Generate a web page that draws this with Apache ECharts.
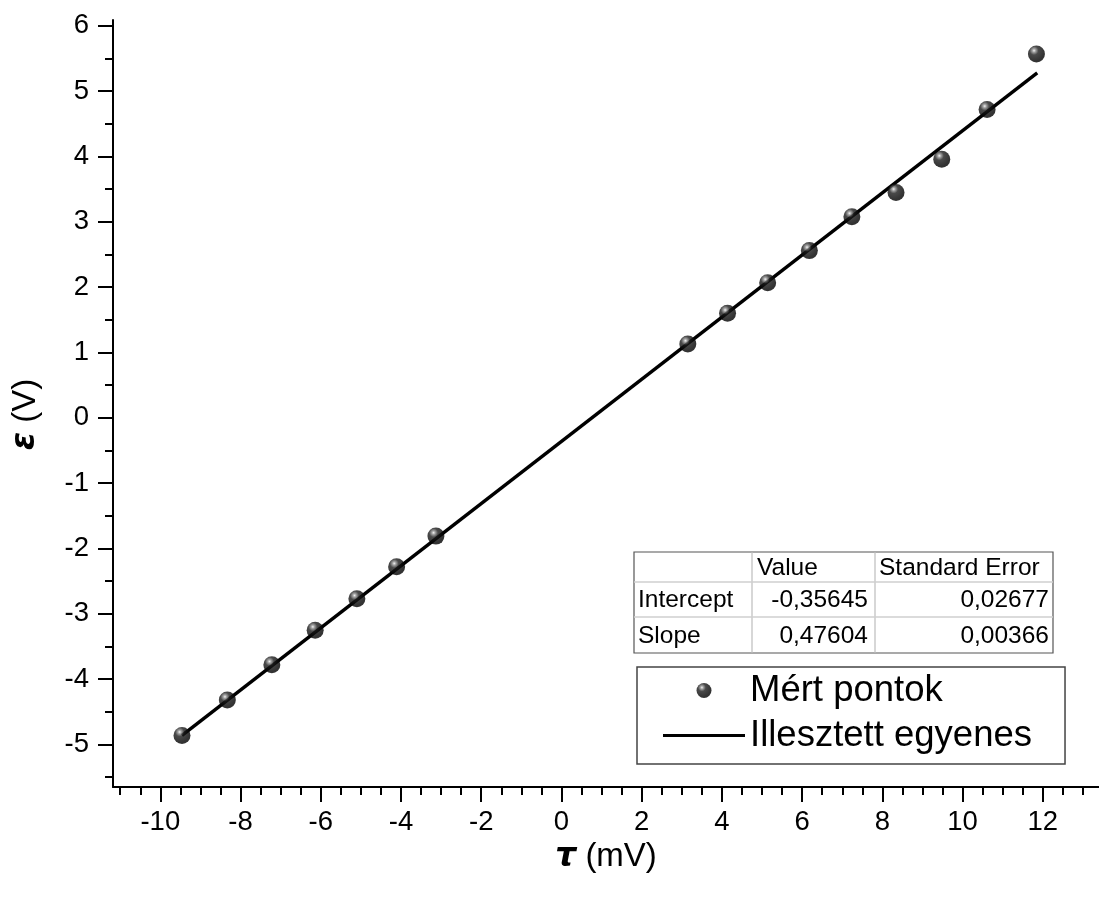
<!DOCTYPE html>
<html>
<head>
<meta charset="utf-8">
<script src="https://cdn.jsdelivr.net/npm/echarts@6/dist/echarts.min.js"></script>
<style>
html,body{margin:0;padding:0;background:#fff;}
#chart{width:1099px;height:899px;}
</style>
</head>
<body>
<div id="chart"></div>
<script>
// ---- data ----
var measuredX = [-9.46, -8.33, -7.22, -6.14, -5.10, -4.11, -3.13, 3.15, 4.14, 5.14, 6.18, 7.24, 8.34, 9.48, 10.61, 11.84];
var measuredY = [-4.86, -4.32, -3.78, -3.25, -2.77, -2.28, -1.81, 1.13, 1.60, 2.07, 2.56, 3.08, 3.45, 3.96, 4.72, 5.57];
var fitLineX = [-9.46, 11.86];
var fitLineY = [-4.86, 5.28];
var xMajorTicks = [-10, -8, -6, -4, -2, 0, 2, 4, 6, 8, 10, 12];
var yMajorTicks = [-5, -4, -3, -2, -1, 0, 1, 2, 3, 4, 5, 6];
var seriesNames = ['Mért pontok', 'Illesztett egyenes'];
var tableHeader = ['', 'Value', 'Standard Error'];
var tableRowNames = ['Intercept', 'Slope'];
var tableValues = ['-0,35645', '0,47604'];
var tableErrors = ['0,02677', '0,00366'];

var X_MIN = -11.18, X_MAX = 13.4, Y_MIN = -5.65, Y_MAX = 6.09;
function minorList(a, b) { var r = []; for (var v = a; v <= b + 1e-9; v += 0.5) r.push(Math.round(v * 10) / 10); return r; }
var xMinorTicks = minorList(-11, 13);
var yMinorTicks = minorList(-5.5, 6);

var FONT = '"Liberation Sans", Arial, Helvetica, sans-serif';

var scatterData = measuredX.map(function (x, i) { return [x, measuredY[i]]; });
var lineData = fitLineX.map(function (x, i) { return [x, fitLineY[i]]; });

var sphere = new echarts.graphic.RadialGradient(0.36, 0.3, 0.62, [
  { offset: 0, color: '#f0f0f0' },
  { offset: 0.16, color: '#8c8c8c' },
  { offset: 0.42, color: '#1c1c1c' },
  { offset: 1, color: '#000000' }
]);

var chart = echarts.init(document.getElementById('chart'), null, { renderer: 'canvas' });

// table graphics
var tblLeft = 634, tblRight = 1053, colA = 752, colB = 875;
var rowYs = [552, 582, 617, 653];
var graphics = [];
graphics.push({ type: 'rect', shape: { x: tblLeft, y: rowYs[0], width: tblRight - tblLeft, height: rowYs[3] - rowYs[0] },
  style: { fill: '#fff', stroke: '#555', lineWidth: 1.2 }, z: 10 });
[colA, colB].forEach(function (cx) {
  graphics.push({ type: 'line', shape: { x1: cx, y1: rowYs[0], x2: cx, y2: rowYs[3] }, style: { stroke: '#bdbdbd', lineWidth: 1.2 }, z: 11 });
});
[rowYs[1], rowYs[2]].forEach(function (ry) {
  graphics.push({ type: 'line', shape: { x1: tblLeft, y1: ry, x2: tblRight, y2: ry }, style: { stroke: '#cfcfcf', lineWidth: 1.5 }, z: 11 });
});
function cellText(t, x, y, align) {
  graphics.push({ type: 'text', x: x, y: y, z: 12,
    style: { text: t, fill: '#000', font: '24.5px ' + FONT, textAlign: align, textVerticalAlign: 'middle', verticalAlign: 'middle', align: align } });
}
cellText(tableHeader[1], colA + 5, (rowYs[0] + rowYs[1]) / 2 + 1, 'left');
cellText(tableHeader[2], colB + 4, (rowYs[0] + rowYs[1]) / 2 + 1, 'left');
for (var i = 0; i < 2; i++) {
  var cy = (rowYs[i + 1] + rowYs[i + 2]) / 2 + 1;
  cellText(tableRowNames[i], tblLeft + 4, cy, 'left');
  cellText(tableValues[i], colB - 7, cy, 'right');
  cellText(tableErrors[i], tblRight - 4, cy, 'right');
}

var axisCommon = { type: 'value', splitLine: { show: false } };

chart.setOption({
  animation: false,
  backgroundColor: '#fff',
  grid: { left: 113, right: 0, top: 20, bottom: 112, containLabel: false, outerBoundsMode: 'none' },
  legend: {
    orient: 'vertical', left: 637, top: 667,
    itemWidth: 82, itemHeight: 15, itemGap: 8,
    padding: [5, 33, 10, 26],
    borderColor: '#444', borderWidth: 1.5,
    textStyle: { fontSize: 36.5, fontFamily: FONT, color: '#000' },
    data: [
      { name: seriesNames[0] },
      { name: seriesNames[1], icon: 'path://M0,0L82,0L82,3.2L0,3.2Z' }
    ],
    selectedMode: false
  },
  xAxis: [
    Object.assign({}, axisCommon, {
      min: X_MIN, max: X_MAX, position: 'bottom',
      axisLine: { show: true, onZero: false, lineStyle: { color: '#000', width: 2 } },
      axisTick: { show: true, inside: false, length: 15, customValues: xMajorTicks, lineStyle: { color: '#000', width: 2 } },
      axisLabel: { show: true, customValues: xMajorTicks, margin: 21, fontSize: 27.5, fontFamily: FONT, color: '#000' },
      name: '{g|τ} (mV)', nameLocation: 'middle', nameGap: 52,
      nameTextStyle: { fontSize: 33, fontFamily: FONT, color: '#000',
        rich: { g: { fontSize: 33, fontFamily: '"DejaVu Sans", sans-serif', fontWeight: 'bold', fontStyle: 'italic', color: '#000' } } }
    }),
    Object.assign({}, axisCommon, {
      min: X_MIN, max: X_MAX, position: 'bottom',
      axisLine: { show: false, onZero: false },
      axisTick: { show: true, inside: false, length: 8, customValues: xMinorTicks, lineStyle: { color: '#000', width: 2 } },
      axisLabel: { show: false }
    })
  ],
  yAxis: [
    Object.assign({}, axisCommon, {
      min: Y_MIN, max: Y_MAX, position: 'left',
      axisLine: { show: true, onZero: false, lineStyle: { color: '#000', width: 2 } },
      axisTick: { show: true, inside: false, length: 15, customValues: yMajorTicks, lineStyle: { color: '#000', width: 2 } },
      axisLabel: { show: true, customValues: yMajorTicks, margin: 24, fontSize: 27.5, fontFamily: FONT, color: '#000' },
      name: '{g|ε} (V)', nameLocation: 'middle', nameGap: 71, nameRotate: 90,
      nameTextStyle: { fontSize: 33, fontFamily: FONT, color: '#000', padding: [0, 22, 0, 0],
        rich: { g: { fontSize: 33, fontFamily: '"DejaVu Sans", sans-serif', fontWeight: 'bold', fontStyle: 'italic', color: '#000' } } }
    }),
    Object.assign({}, axisCommon, {
      min: Y_MIN, max: Y_MAX, position: 'left',
      axisLine: { show: false, onZero: false },
      axisTick: { show: true, inside: false, length: 8, customValues: yMinorTicks, lineStyle: { color: '#000', width: 2 } },
      axisLabel: { show: false }
    })
  ],
  series: [
    {
      name: seriesNames[0], type: 'scatter', xAxisIndex: 0, yAxisIndex: 0,
      data: scatterData, symbol: 'circle', symbolSize: 17, z: 5,
      itemStyle: { color: sphere, borderWidth: 0 }
    },
    {
      name: seriesNames[1], type: 'line', xAxisIndex: 0, yAxisIndex: 0,
      data: lineData, symbol: 'none', showSymbol: false, z: 3,
      lineStyle: { color: '#000', width: 3.4 }, itemStyle: { color: '#000' }
    }
  ],
  graphic: graphics
});
</script>
</body>
</html>
